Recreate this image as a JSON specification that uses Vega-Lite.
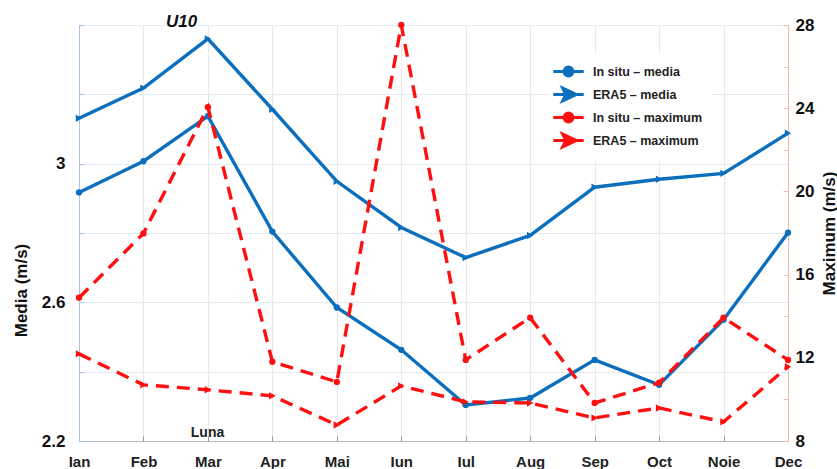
{
  "$schema": "https://vega.github.io/schema/vega-lite/v6.json",
  "width": 709,
  "height": 416,
  "autosize": {"type": "none"},
  "padding": {"left": 79, "top": 25, "right": 49, "bottom": 28},
  "background": "white",
  "config": {
    "font": "Liberation Sans Narrow, Liberation Sans, Arial",
    "view": {"stroke": "#b4b4b4", "strokeWidth": 1}
  },
  "title": {
    "text": "U10",
    "anchor": "start",
    "frame": "group",
    "dx": 87,
    "dy": 15,
    "offset": 0,
    "fontSize": 17,
    "fontWeight": "bold",
    "fontStyle": "italic",
    "font": "Liberation Sans",
    "color": "#111111"
  },
  "datasets": {
    "media": [
      {"month": "Ian", "series": "In situ – media", "value": 2.917},
      {"month": "Feb", "series": "In situ – media", "value": 3.007},
      {"month": "Mar", "series": "In situ – media", "value": 3.137},
      {"month": "Apr", "series": "In situ – media", "value": 2.804},
      {"month": "Mai", "series": "In situ – media", "value": 2.585},
      {"month": "Iun", "series": "In situ – media", "value": 2.463},
      {"month": "Iul", "series": "In situ – media", "value": 2.304},
      {"month": "Aug", "series": "In situ – media", "value": 2.324},
      {"month": "Sep", "series": "In situ – media", "value": 2.434},
      {"month": "Oct", "series": "In situ – media", "value": 2.362},
      {"month": "Noie", "series": "In situ – media", "value": 2.55},
      {"month": "Dec", "series": "In situ – media", "value": 2.801},
      {"month": "Ian", "series": "ERA5 – media", "value": 3.131},
      {"month": "Feb", "series": "ERA5 – media", "value": 3.218},
      {"month": "Mar", "series": "ERA5 – media", "value": 3.36},
      {"month": "Apr", "series": "ERA5 – media", "value": 3.157},
      {"month": "Mai", "series": "ERA5 – media", "value": 2.949},
      {"month": "Iun", "series": "ERA5 – media", "value": 2.816},
      {"month": "Iul", "series": "ERA5 – media", "value": 2.729},
      {"month": "Aug", "series": "ERA5 – media", "value": 2.793},
      {"month": "Sep", "series": "ERA5 – media", "value": 2.932},
      {"month": "Oct", "series": "ERA5 – media", "value": 2.955},
      {"month": "Noie", "series": "ERA5 – media", "value": 2.972},
      {"month": "Dec", "series": "ERA5 – media", "value": 3.088}
    ],
    "maximum": [
      {"month": "Ian", "series": "In situ – maximum", "value": 14.89},
      {"month": "Feb", "series": "In situ – maximum", "value": 17.98},
      {"month": "Mar", "series": "In situ – maximum", "value": 24.05},
      {"month": "Apr", "series": "In situ – maximum", "value": 11.81},
      {"month": "Mai", "series": "In situ – maximum", "value": 10.84},
      {"month": "Iun", "series": "In situ – maximum", "value": 28.0},
      {"month": "Iul", "series": "In situ – maximum", "value": 11.9},
      {"month": "Aug", "series": "In situ – maximum", "value": 13.93},
      {"month": "Sep", "series": "In situ – maximum", "value": 9.83},
      {"month": "Oct", "series": "In situ – maximum", "value": 10.8},
      {"month": "Noie", "series": "In situ – maximum", "value": 13.93},
      {"month": "Dec", "series": "In situ – maximum", "value": 11.9},
      {"month": "Ian", "series": "ERA5 – maximum", "value": 12.19},
      {"month": "Feb", "series": "ERA5 – maximum", "value": 10.7},
      {"month": "Mar", "series": "ERA5 – maximum", "value": 10.46},
      {"month": "Apr", "series": "ERA5 – maximum", "value": 10.17},
      {"month": "Mai", "series": "ERA5 – maximum", "value": 8.77},
      {"month": "Iun", "series": "ERA5 – maximum", "value": 10.65},
      {"month": "Iul", "series": "ERA5 – maximum", "value": 9.88},
      {"month": "Aug", "series": "ERA5 – maximum", "value": 9.83},
      {"month": "Sep", "series": "ERA5 – maximum", "value": 9.11},
      {"month": "Oct", "series": "ERA5 – maximum", "value": 9.59},
      {"month": "Noie", "series": "ERA5 – maximum", "value": 8.92},
      {"month": "Dec", "series": "ERA5 – maximum", "value": 11.57}
    ]
  },
  "encoding": {
    "x": {
      "field": "month",
      "type": "ordinal",
      "sort": ["Ian", "Feb", "Mar", "Apr", "Mai", "Iun", "Iul", "Aug", "Sep", "Oct", "Noie", "Dec"],
      "scale": {"type": "point", "padding": 0},
      "axis": {
        "title": "Luna",
        "titleX": 128,
        "titleY": -9,
        "titleBaseline": "middle",
        "titleAlign": "center",
        "titleFontSize": 14,
        "titleFontWeight": "bold",
        "titleColor": "#222222",
        "labelAngle": 0,
        "labelFontSize": 15,
        "labelFontWeight": "bold",
        "labelColor": "#222222",
        "labelPadding": 18,
        "tickSize": -5,
        "tickColor": "#9a9a9a",
        "domainColor": "#b4bcc6",
        "grid": true,
        "gridColor": "#e8e8e8",
        "gridWidth": 1
      }
    },
    "color": {
      "field": "series",
      "type": "nominal",
      "scale": {
        "domain": ["In situ – media", "ERA5 – media", "In situ – maximum", "ERA5 – maximum"],
        "range": ["#0b6fbe", "#0b6fbe", "#ff1010", "#ff1010"]
      },
      "legend": {
        "orient": "none",
        "legendX": 471,
        "legendY": 28,
        "title": null,
        "fillColor": "white",
        "padding": 8,
        "symbolSize": 324,
        "rowPadding": 0,
        "labelOffset": 14,
        "labelFontSize": 12.5,
        "labelFontWeight": "bold",
        "labelFont": "Liberation Sans",
        "labelColor": "#222222",
        "encode": {
          "symbols": {
            "update": {
              "shape": {"signal": "indexof(datum.value, 'In situ') == 0 ? 'M-1.69,0H-0.49A0.49,0.49 0 1,1 0.49,0H1.69M0.49,0A0.49,0.49 0 1,1 -0.49,0' : 'M-1.69,0H1.69M-0.64,-0.7L0.87,0L-0.64,0.7L-0.29,0Z'"},
              "size": {"value": 324},
              "fill": {"scale": "color", "field": "value"},
              "stroke": {"scale": "color", "field": "value"},
              "strokeWidth": {"value": 3},
              "strokeDash": {"value": []},
              "opacity": {"value": 1}
            }
          }
        }
      }
    }
  },
  "layer": [
    {
      "data": {"name": "media"},
      "encoding": {
        "y": {
          "field": "value",
          "type": "quantitative",
          "scale": {"domain": [2.2, 3.4], "nice": false, "zero": false},
          "axis": {
            "orient": "left",
            "title": "Media (m/s)",
            "titleFontSize": 17,
            "titleFontWeight": "bold",
            "titleColor": "#111111",
            "titleAngle": 270,
            "titleX": -58,
            "titleY": 265,
            "titleBaseline": "middle",
            "titleAlign": "center",
            "values": [2.2, 2.4, 2.6, 2.8, 3, 3.2, 3.4],
            "labelExpr": "(round(datum.value*10) % 4 == 2 && datum.value < 3.3) ? format(datum.value, '~g') : ''",
            "labelFontSize": 17,
            "labelFontWeight": "bold",
            "labelColor": "#111111",
            "labelPadding": 19,
            "tickSize": -5,
            "tickColor": "#a9c4e2",
            "domainColor": "#a9c4e2",
            "grid": true,
            "gridColor": "#e3ebf4",
            "gridWidth": 1
          }
        }
      },
      "layer": [
        {"mark": {"type": "line", "strokeWidth": 3.4}, "encoding": {"detail": {"field": "series"}}},
        {
          "transform": [{"filter": "indexof(datum.series, 'In situ') == 0"}],
          "mark": {"type": "point", "filled": true, "opacity": 1, "size": 40, "shape": "circle"}
        },
        {
          "transform": [{"filter": "indexof(datum.series, 'ERA5') == 0"}],
          "mark": {"type": "point", "filled": true, "opacity": 1, "size": 55, "shape": "triangle-right"}
        }
      ]
    },
    {
      "data": {"name": "maximum"},
      "encoding": {
        "y": {
          "field": "value",
          "type": "quantitative",
          "scale": {"domain": [8, 28], "nice": false, "zero": false},
          "axis": {
            "orient": "right",
            "title": "Maximum (m/s)",
            "titleFontSize": 17,
            "titleFontWeight": "bold",
            "titleColor": "#111111",
            "titleAngle": 270,
            "titleX": 41,
            "titleY": 208,
            "titleBaseline": "middle",
            "titleAlign": "center",
            "values": [8, 10, 12, 14, 16, 18, 20, 22, 24, 26, 28],
            "labelExpr": "datum.value % 4 == 0 ? datum.label : ''",
            "labelFontSize": 17,
            "labelFontWeight": "bold",
            "labelColor": "#111111",
            "labelPadding": 12,
            "tickSize": -5,
            "tickColor": "#f4b8a8",
            "domainColor": "#f4b8a8",
            "grid": false
          }
        }
      },
      "layer": [
        {"mark": {"type": "line", "strokeWidth": 3.4, "strokeDash": [13, 8]}, "encoding": {"detail": {"field": "series"}}},
        {
          "transform": [{"filter": "indexof(datum.series, 'In situ') == 0"}],
          "mark": {"type": "point", "filled": true, "opacity": 1, "size": 40, "shape": "circle"}
        },
        {
          "transform": [{"filter": "indexof(datum.series, 'ERA5') == 0"}],
          "mark": {"type": "point", "filled": true, "opacity": 1, "size": 55, "shape": "triangle-right"}
        }
      ]
    }
  ],
  "resolve": {"scale": {"y": "independent"}}
}
